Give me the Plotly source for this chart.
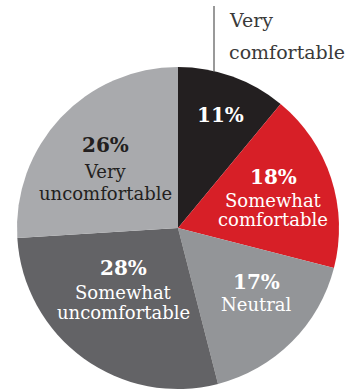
import plotly.graph_objects as go

# Survey responses, clockwise from 12 o'clock
categories = ["Very comfortable", "Somewhat comfortable", "Neutral",
              "Somewhat uncomfortable", "Very uncomfortable"]
shares = [11, 18, 17, 28, 26]
slice_colors = ["#231f20", "#d71f27", "#939598", "#636366", "#a9aaad"]

W, H = 360, 389
SERIF = "DejaVu Serif"

fig = go.Figure(go.Pie(
    labels=categories,
    values=shares,
    sort=False,
    direction="clockwise",
    rotation=0,
    marker=dict(colors=slice_colors, line=dict(width=0)),
    textinfo="none",
    hoverinfo="label+percent",
    showlegend=False,
    domain=dict(x=[17 / W, 339 / W], y=[0, 1 - 67 / H]),
))


def px_x(x):
    return x / W


def px_y(y):
    return 1 - y / H


# label layout for each slice: (percent centre x, percent y, name-line ys, colour)
label_layout = [
    (220, 115, [], "white"),
    (273, 177, [200, 219], "white"),
    (256, 282, [304], "white"),
    (123, 268, [292, 312], "white"),
    (105, 145, [172, 193], "#231f20"),
]
name_lines = {
    "Very comfortable": [],
    "Somewhat comfortable": ["Somewhat", "comfortable"],
    "Neutral": ["Neutral"],
    "Somewhat uncomfortable": ["Somewhat", "uncomfortable"],
    "Very uncomfortable": ["Very", "uncomfortable"],
}

annotations = []
for cat, val, (cx, py, ys, col) in zip(categories, shares, label_layout):
    annotations.append(dict(
        x=px_x(cx), y=px_y(py), xref="paper", yref="paper",
        text=f"<b>{val}%</b>", showarrow=False,
        xanchor="center", yanchor="middle",
        font=dict(family=SERIF, size=20, color=col),
    ))
    for line, ly in zip(name_lines[cat], ys):
        annotations.append(dict(
            x=px_x(cx), y=px_y(ly), xref="paper", yref="paper",
            text=line, showarrow=False,
            xanchor="center", yanchor="middle",
            font=dict(family=SERIF, size=18, color=col),
        ))

# callout for the smallest slice
for line, ly in zip(["Very", "comfortable"], [20, 52]):
    annotations.append(dict(
        x=px_x(227), y=px_y(ly), xref="paper", yref="paper",
        text=line, showarrow=False,
        xanchor="left", yanchor="middle",
        font=dict(family=SERIF, size=19, color="#3a3a3a"),
    ))

fig.add_shape(type="line", xref="paper", yref="paper",
              x0=px_x(214), x1=px_x(214), y0=px_y(6), y1=px_y(72),
              line=dict(color="#555555", width=1.2))

fig.update_layout(
    width=W, height=H,
    margin=dict(l=0, r=0, t=0, b=0),
    paper_bgcolor="white",
    plot_bgcolor="white",
    annotations=annotations,
)

fig.write_html("out.html")
